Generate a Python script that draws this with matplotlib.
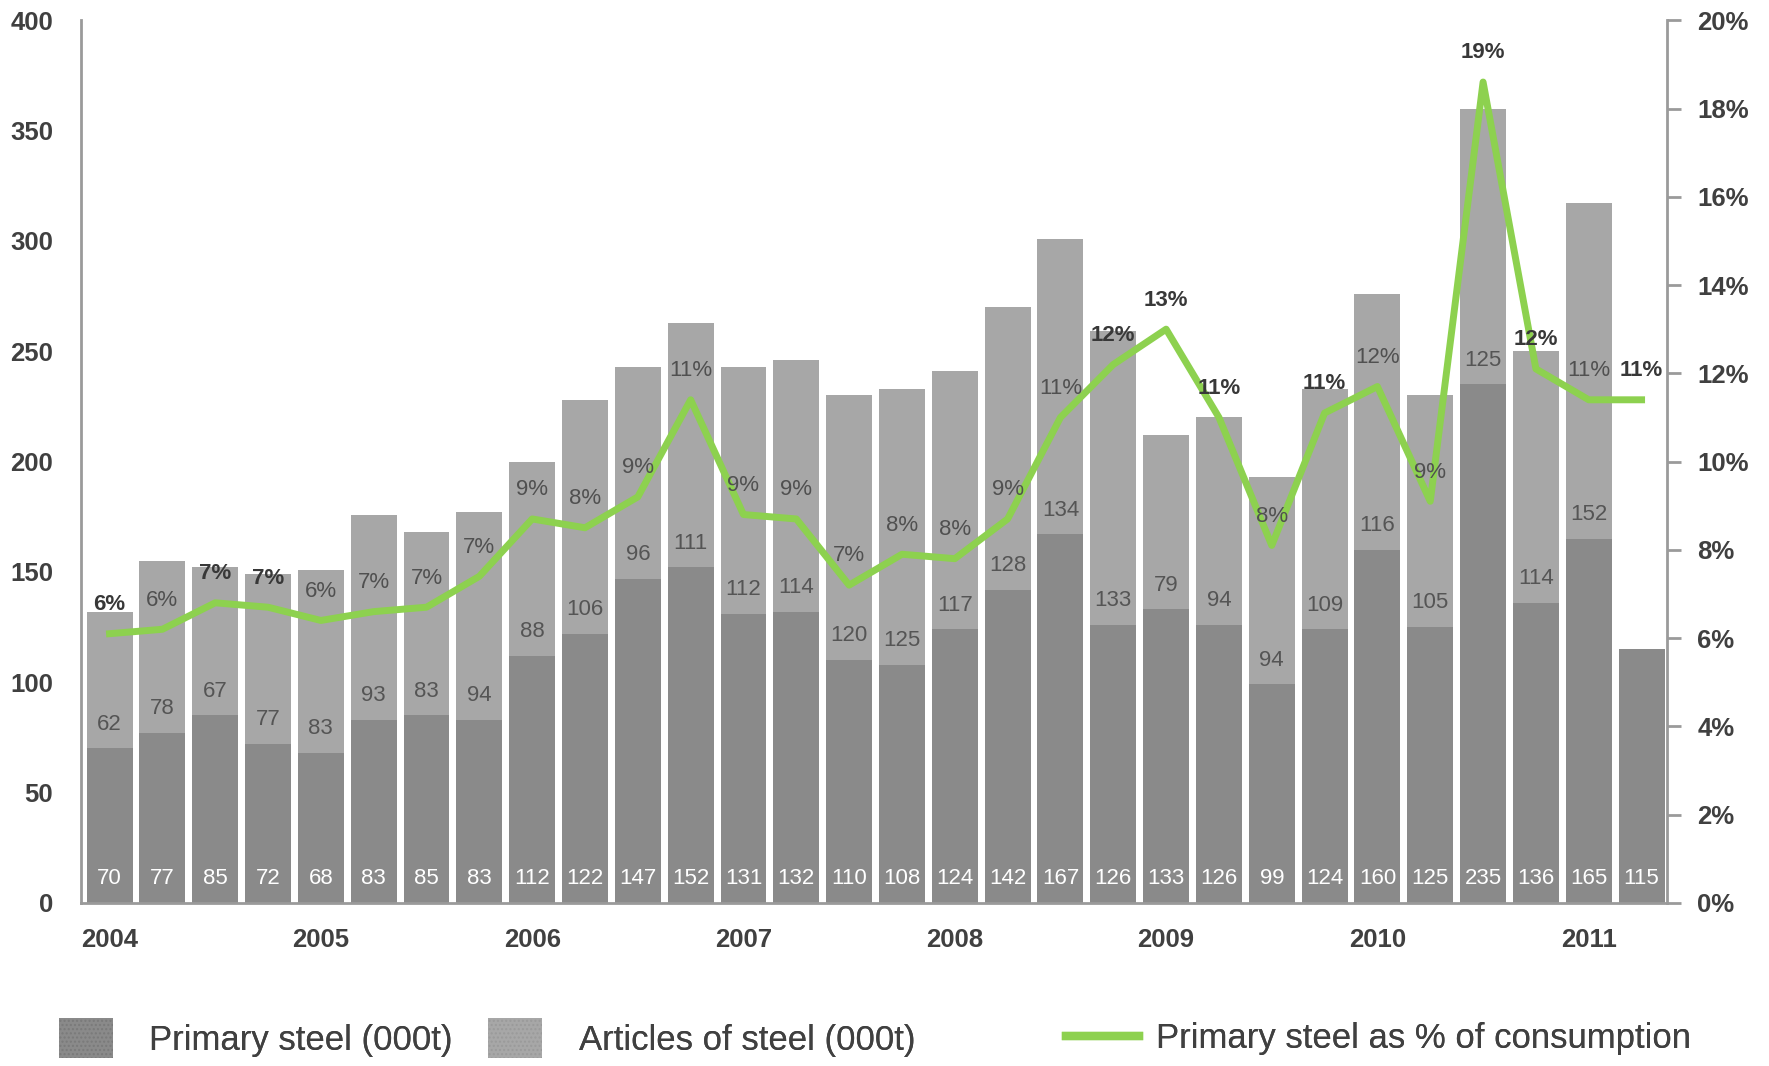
import matplotlib
matplotlib.use('Agg')
import matplotlib.pyplot as plt
from matplotlib.patches import Patch
from matplotlib.lines import Line2D
from matplotlib.ticker import PercentFormatter

# Quarterly data, 2004 Q1 - 2011 Q2
years = ['2004', '2005', '2006', '2007', '2008', '2009', '2010', '2011']
primary = [70, 77, 85, 72, 68, 83, 85, 83, 112, 122, 147, 152, 131, 132, 110,
           108, 124, 142, 167, 126, 133, 126, 99, 124, 160, 125, 235, 136, 165, 115]
articles = [62, 78, 67, 77, 83, 93, 83, 94, 88, 106, 96, 111, 112, 114, 120,
            125, 117, 128, 134, 133, 79, 94, 94, 109, 116, 105, 125, 114, 152, 0]
share_pct = [6.1, 6.2, 6.8, 6.7, 6.4, 6.6, 6.7, 7.4, 8.7, 8.5, 9.2, 11.4, 8.8, 8.7, 7.2,
             7.9, 7.8, 8.7, 11.0, 12.2, 13.0, 11.0, 8.1, 11.1, 11.7, 9.1, 18.6, 12.1, 11.4, 11.4]
legend_labels = ['Primary steel (000t)', 'Articles of steel (000t)',
                 'Primary steel as % of consumption']

DARK = '#8a8a8a'
LIGHT = '#a7a7a7'
GREEN = '#8dd14f'
TXT = '#404040'
AX = '#9a9a9a'

plt.rcParams['font.family'] = ['Liberation Sans', 'DejaVu Sans']


def add_legend(fig, handle, label, x, **kw):
    # uma legenda por entrada, para controlar a posição de cada uma
    leg = fig.legend([handle], [label], loc='center left', bbox_to_anchor=(x, 0.026),
                     frameon=False, fontsize=25, borderpad=0, borderaxespad=0,
                     labelcolor=TXT, **kw)
    fig.add_artist(leg)


def main():
    fig = plt.figure(figsize=(17.69, 10.66), dpi=100)
    ax = fig.add_axes([0.0458, 0.153, 0.8965, 0.828])
    x = list(range(len(primary)))

    ax.bar(x, primary, width=0.87, color=DARK, zorder=2)
    ax.bar(x, articles, width=0.87, bottom=primary, color=LIGHT, zorder=2)

    # valores nas barras
    for i in x:
        ax.text(i, 11, str(primary[i]), ha='center', va='center', color='white',
                fontsize=16, zorder=3)
        if articles[i] > 0:
            ax.text(i, primary[i] + 11, str(articles[i]), ha='center', va='center',
                    color='#555555', fontsize=16, zorder=3)

    ax.set_xlim(-0.54, len(primary) - 1 + 0.48)
    ax.set_ylim(0, 400)
    ax.set_yticks(range(0, 401, 50))
    ax.set_xticks(range(0, len(primary), 4))
    ax.set_xticklabels(years)
    ax.tick_params(axis='y', length=0, pad=20, labelsize=18.5, labelcolor=TXT)
    ax.tick_params(axis='x', length=0, pad=18, labelsize=18.5, labelcolor=TXT)
    for lab in ax.get_yticklabels() + ax.get_xticklabels():
        lab.set_fontweight('bold')
    for s in ['top', 'right']:
        ax.spines[s].set_visible(False)
    for s in ['left', 'bottom']:
        ax.spines[s].set_color(AX)
        ax.spines[s].set_linewidth(2)

    # eixo secundário com a percentagem
    ax2 = ax.twinx()
    ax2.plot(x, share_pct, color=GREEN, linewidth=5, solid_joinstyle='round', zorder=4)
    ax2.set_ylim(0, 20)
    ax2.set_yticks(range(0, 21, 2))
    ax2.yaxis.set_major_formatter(PercentFormatter(decimals=0))
    ax2.tick_params(axis='y', length=10, width=2, color=AX, pad=12,
                    labelsize=18.5, labelcolor=TXT)
    for lab in ax2.get_yticklabels():
        lab.set_fontweight('bold')
    for s in ['top', 'left', 'bottom']:
        ax2.spines[s].set_visible(False)
    ax2.spines['right'].set_color(AX)
    ax2.spines['right'].set_linewidth(2)

    for i in x:
        total = primary[i] + articles[i]
        label_y = share_pct[i] * 20 + 13.5
        bold = label_y > total - 6
        ax2.annotate(f'{round(share_pct[i]):.0f}%', (i, share_pct[i]),
                     xytext=(0, 21), textcoords='offset points',
                     ha='center', va='center', fontsize=16,
                     color='#383838' if bold else '#505050',
                     fontweight='bold' if bold else 'normal', zorder=5)

    # legenda
    add_legend(fig, Patch(facecolor=DARK, hatch='....', edgecolor='#7a7a7a', linewidth=0),
               legend_labels[0], 0.0332,
               handlelength=1.55, handleheight=1.4, handletextpad=1.05)
    add_legend(fig, Patch(facecolor=LIGHT, hatch='....', edgecolor='#9a9a9a', linewidth=0),
               legend_labels[1], 0.276,
               handlelength=1.55, handleheight=1.4, handletextpad=1.05)
    add_legend(fig, Line2D([0], [0], color=GREEN, linewidth=6),
               legend_labels[2], 0.6026,
               handlelength=2.1, handletextpad=0.5)

    fig.savefig('out.png', dpi=100)


if __name__ == "__main__":
    main()
